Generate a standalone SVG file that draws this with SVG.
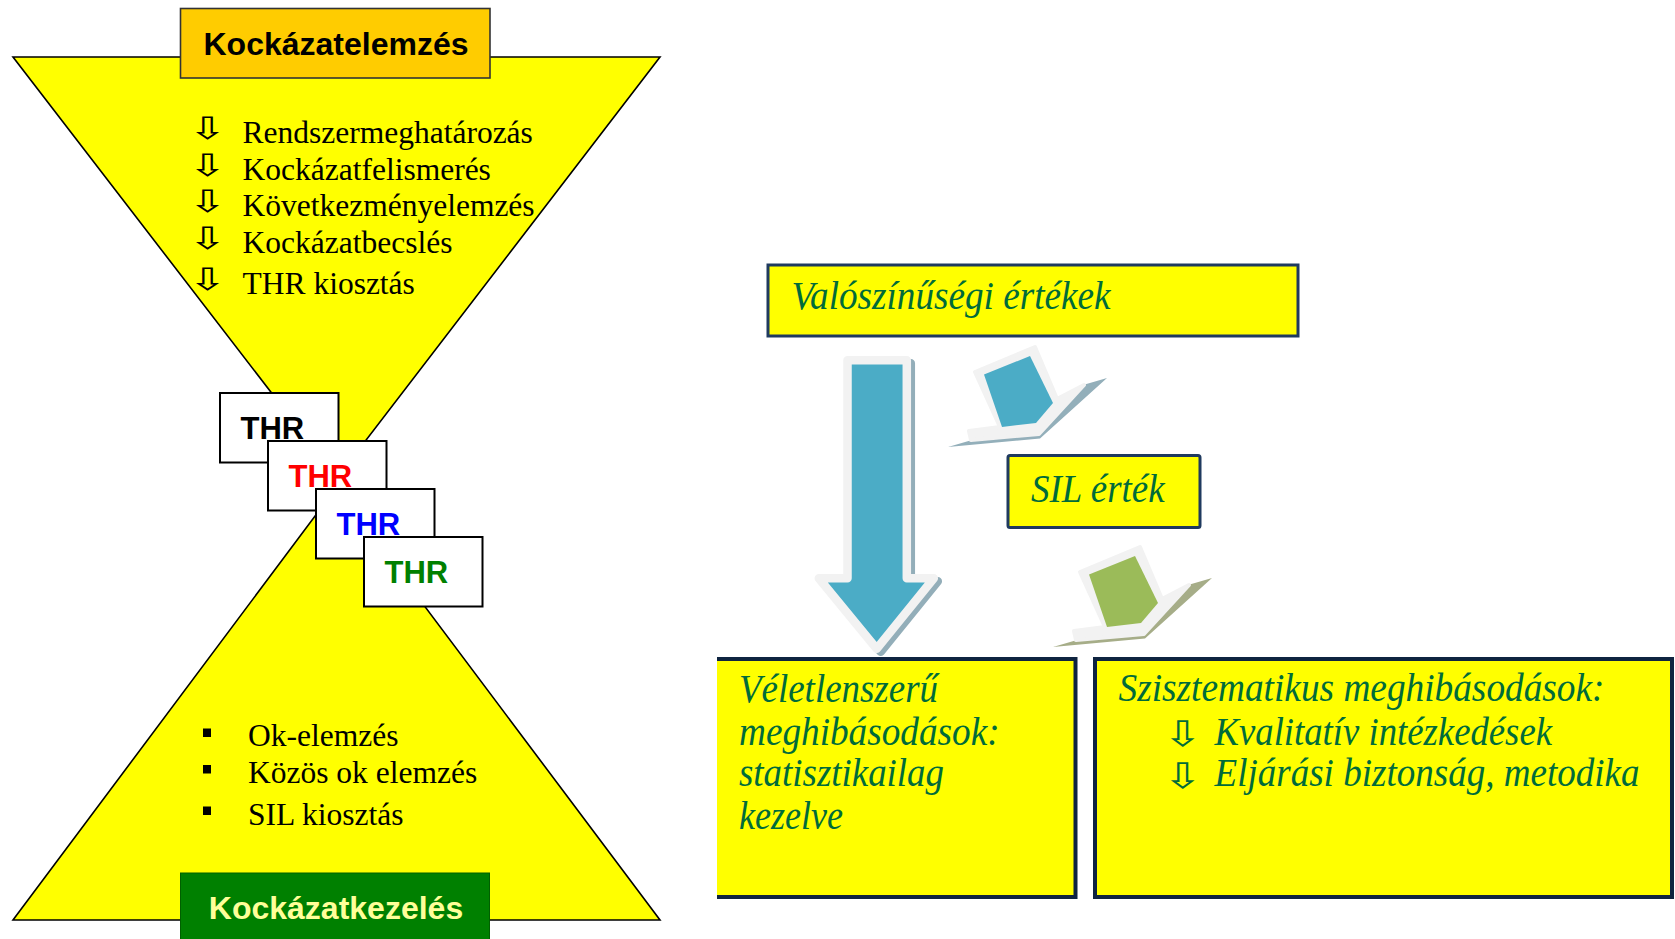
<svg xmlns="http://www.w3.org/2000/svg" width="1675" height="939" viewBox="0 0 1675 939">
<style>
.tri{fill:#FFFF00;stroke:#000;stroke-width:1.6;stroke-linejoin:miter}
.hd{font-family:"Liberation Sans",Arial,sans-serif;font-weight:bold;font-size:32px}
.thrbox{fill:#fff;stroke:#000;stroke-width:2}
.thr{font-family:"Liberation Sans",Arial,sans-serif;font-weight:bold;font-size:31px}
.t{font-family:"Liberation Serif","Times New Roman",serif;font-size:31.5px;fill:#000}
.ar{font-family:"DejaVu Sans",sans-serif;font-size:31px;fill:#000}
.gar{font-family:"DejaVu Sans",sans-serif;font-size:35px;fill:#006B3A}
.i{font-family:"Liberation Serif","Times New Roman",serif;font-style:italic;font-size:41px;fill:#006B3A}
.yb{fill:#FFFF00;stroke:#1F3A5F;stroke-width:3}
.bb{fill:#FFFF00;stroke:#0F2440;stroke-width:4}
.wht{fill:#F2F2F2;stroke:#F2F2F2;stroke-width:4;stroke-linejoin:round}
</style>

<g id="hourglass">
  <polygon class="tri" points="13,57 660,57 337,478"/>
  <polygon class="tri" points="13,920 660,920 336,488"/>
</g>

<g id="header-kockazatelemzes">
  <rect x="180.5" y="8.5" width="309.5" height="69.5" fill="#FFCC00" stroke="#333" stroke-width="1.6"/>
  <text class="hd" x="336" y="55" text-anchor="middle" fill="#000">Kockázatelemzés</text>
</g>

<g id="list-top">
  <text class="ar" transform="translate(188,139) scale(1.5,1)">⇩</text>
  <text class="t" x="242.5" y="143">Rendszermeghatározás</text>
  <text class="ar" transform="translate(188,176) scale(1.5,1)">⇩</text>
  <text class="t" x="242.5" y="179.5">Kockázatfelismerés</text>
  <text class="ar" transform="translate(188,212) scale(1.5,1)">⇩</text>
  <text class="t" x="242.5" y="216">Következményelemzés</text>
  <text class="ar" transform="translate(188,249) scale(1.5,1)">⇩</text>
  <text class="t" x="242.5" y="253">Kockázatbecslés</text>
  <text class="ar" transform="translate(188,290) scale(1.5,1)">⇩</text>
  <text class="t" x="242.5" y="294">THR kiosztás</text>
</g>

<g id="thr-1">
  <rect class="thrbox" x="220" y="393" width="118.5" height="69.5"/>
  <text class="thr" x="240.5" y="439" fill="#000">THR</text>
</g>
<g id="thr-2">
  <rect class="thrbox" x="268" y="441" width="118.5" height="69.5"/>
  <text class="thr" x="288.5" y="487" fill="#FF0000">THR</text>
</g>
<g id="thr-3">
  <rect class="thrbox" x="316" y="489" width="118.5" height="69.5"/>
  <text class="thr" x="336.5" y="535" fill="#0000FF">THR</text>
</g>
<g id="thr-4">
  <rect class="thrbox" x="364" y="537" width="118.5" height="69.5"/>
  <text class="thr" x="384.5" y="583" fill="#008000">THR</text>
</g>

<g id="list-bottom">
  <rect x="203" y="728.5" width="8" height="8.5" fill="#000"/>
  <text class="t" x="248" y="745.5">Ok-elemzés</text>
  <rect x="203" y="765" width="8" height="8.5" fill="#000"/>
  <text class="t" x="248" y="783">Közös ok elemzés</text>
  <rect x="203" y="806.5" width="8" height="8.5" fill="#000"/>
  <text class="t" x="248" y="824.5">SIL kiosztás</text>
</g>

<g id="header-kockazatkezeles">
  <rect x="180.5" y="873" width="309" height="70" fill="#008000" stroke="#006000" stroke-width="1"/>
  <text class="hd" x="336" y="919" text-anchor="middle" fill="#FFFF99">Kockázatkezelés</text>
</g>

<g id="valoszinusegi">
  <rect class="yb" x="768" y="265" width="530" height="71"/>
  <text class="i" x="791.5" y="309" textLength="319" lengthAdjust="spacingAndGlyphs">Valószínűségi értékek</text>
</g>

<g id="sil-ertek">
  <rect class="yb" x="1008" y="455.5" width="192" height="72" rx="2"/>
  <text class="i" x="1031" y="502" textLength="133.5" lengthAdjust="spacingAndGlyphs">SIL érték</text>
</g>

<g id="veletlenszeru">
  <rect x="717" y="659" width="359" height="238" fill="#FFFF00"/>
  <path d="M717,659 H1075.5 V897 H717" fill="none" stroke="#0F2440" stroke-width="4"/>
  <text class="i" x="739" y="702" textLength="199" lengthAdjust="spacingAndGlyphs">Véletlenszerű</text>
  <text class="i" x="739" y="744.5" textLength="260.6" lengthAdjust="spacingAndGlyphs">meghibásodások:</text>
  <text class="i" x="739" y="786" textLength="205" lengthAdjust="spacingAndGlyphs">statisztikailag</text>
  <text class="i" x="739" y="829" textLength="104" lengthAdjust="spacingAndGlyphs">kezelve</text>
</g>

<g id="szisztematikus">
  <rect class="bb" x="1095" y="659" width="577" height="238"/>
  <text class="i" x="1118.5" y="701" textLength="486" lengthAdjust="spacingAndGlyphs">Szisztematikus meghibásodások:</text>
  <text class="gar" transform="translate(1163,746) scale(1.35,1)">⇩</text>
  <text class="i" x="1214.5" y="744.5" textLength="337.5" lengthAdjust="spacingAndGlyphs">Kvalitatív intézkedések</text>
  <text class="gar" transform="translate(1163,788) scale(1.35,1)">⇩</text>
  <text class="i" x="1214.5" y="786" textLength="425" lengthAdjust="spacingAndGlyphs">Eljárási biztonság, metodika</text>
</g>

<g id="connectors">
  <g id="arrow-main">
    <polygon points="851.5,363.3 910.8,363.3 910.8,581.3 937.8,581.3 880.7,651.7 822.8,581.3 851.5,581.3" fill="#93AEB9" stroke="#93AEB9" stroke-width="8.5" stroke-linejoin="round"/>
    <polygon points="847.5,360.3 906.8,360.3 906.8,578.3 933.8,578.3 876.7,648.7 818.8,578.3 847.5,578.3" fill="#4BACC6" stroke="#F2F2F2" stroke-width="8.5" stroke-linejoin="round"/>
  </g>
  <g id="arrow-to-sil">
    <polygon points="948,447 1040,438.5 1107,378 1083,385 972,440" fill="#93AFBA"/>
    <polygon class="wht" points="975,372 1035,347 1057,399 1084,385 1039,434 971,440 969,431 1000,427"/>
    <polygon points="984,374.5 1030,356 1053,403 1036,423 1002,427" fill="#4BACC6"/>
  </g>
  <g id="arrow-to-systematic" transform="translate(105,200)">
    <polygon points="948,447 1040,438.5 1107,378 1083,385 972,440" fill="#A6AD88"/>
    <polygon class="wht" points="975,372 1035,347 1057,399 1084,385 1039,434 971,440 969,431 1000,427"/>
    <polygon points="984,374.5 1030,356 1053,403 1036,423 1002,427" fill="#9BBB59"/>
  </g>
</g>
</svg>
